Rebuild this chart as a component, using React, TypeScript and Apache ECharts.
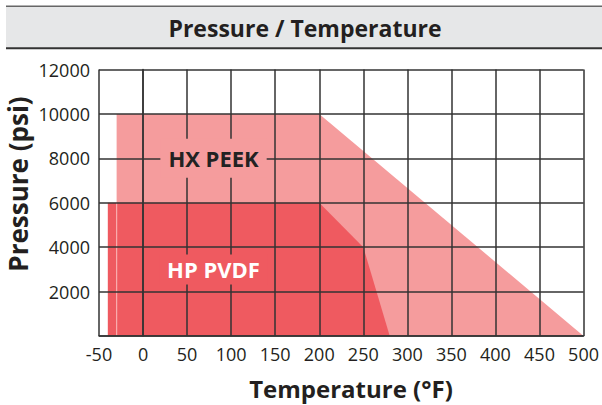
import React, { useEffect, useRef } from "react";
import * as echarts from "echarts";

// ---- data ----
const titleText = "Pressure / Temperature";
const xAxisTitle = "Temperature (°F)";
const yAxisTitle = "Pressure (psi)";

const xMin = -50;
const xMax = 500;
const xStep = 50;
const yMin = 0;
const yMax = 12000;
const yStep = 2000;

// HX PEEK envelope (temperature °F, pressure psi)
const peekTemp = [-30, -30, 200, 500];
const peekPsi = [0, 10000, 10000, 0];

// HP PVDF envelope
const pvdfTemp = [-40, -40, 200, 250, 280];
const pvdfPsi = [0, 6000, 6000, 4000, 0];

// region labels (anchor in data units)
const labelNames = ["HX PEEK", "HP PVDF"];
const labelTemp = [80, 80];
const labelPsi = [8000, 3000];

const PINK = "#F59C9D";
const RED = "#EF5A60";
const INK = "#231F20";
const GRID = "#333333";
const FONT = "'Open Sans', 'Noto Sans', sans-serif";

const zip = (a: number[], b: number[]) => a.map((v, i) => [v, b[i]]);

export default function App() {
  const ref = useRef<HTMLDivElement>(null);
  useEffect(() => {
    if (!ref.current) return;
    const chart = echarts.init(ref.current, null, { renderer: "svg" });
    chart.setOption({
      animation: false,
      backgroundColor: "#ffffff",
      grid: { left: 99, right: 16, top: 69.5, bottom: 69, containLabel: false },
      xAxis: {
        type: "value",
        min: xMin,
        max: xMax,
        interval: xStep,
        z: 5,
        axisLine: { show: true, onZero: false, lineStyle: { color: GRID, width: 1.5 } },
        axisTick: { show: false },
        splitLine: { show: true, lineStyle: { color: GRID, width: 1.5 } },
        axisLabel: { color: INK, fontSize: 18, fontFamily: FONT, margin: 9 },
      },
      yAxis: {
        type: "value",
        min: yMin,
        max: yMax,
        interval: yStep,
        z: 5,
        axisLine: { show: true, lineStyle: { color: GRID, width: 1.5 } },
        axisTick: { show: false },
        splitLine: { show: true, lineStyle: { color: GRID, width: 1.5 } },
        axisLabel: {
          color: INK,
          fontSize: 18,
          fontFamily: FONT,
          margin: 9,
          formatter: (v: number) => (v === 0 ? "" : String(v)),
        },
      },
      series: [
        {
          name: "HX PEEK",
          type: "line",
          z: 1,
          data: zip(peekTemp, peekPsi),
          showSymbol: false,
          symbol: "none",
          lineStyle: { width: 0 },
          areaStyle: { color: PINK, opacity: 1 },
          silent: true,
        },
        {
          name: "HP PVDF",
          type: "line",
          z: 2,
          data: zip(pvdfTemp, pvdfPsi),
          showSymbol: false,
          symbol: "none",
          lineStyle: { width: 0 },
          areaStyle: { color: RED, opacity: 1 },
          silent: true,
        },
        {
          name: "PEEK edge",
          type: "line",
          z: 3,
          data: [
            [peekTemp[0], 0],
            [peekTemp[1], pvdfPsi[1]],
          ],
          showSymbol: false,
          symbol: "none",
          lineStyle: { width: 1.2, color: "rgba(252,200,200,0.75)" },
          silent: true,
        },
        {
          name: "labels",
          type: "scatter",
          z: 10,
          symbolSize: 1,
          itemStyle: { color: "rgba(0,0,0,0)", opacity: 1 },
          silent: true,
          data: [
            {
              value: [labelTemp[0], labelPsi[0]],
              name: labelNames[0],
              label: {
                show: true,
                position: "inside",
                formatter: labelNames[0],
                color: "#222222",
                textBorderWidth: 0,
                fontSize: 22,
                fontWeight: "bold",
                fontFamily: FONT,
                lineHeight: 22,
                backgroundColor: PINK,
                padding: [9, 8, 8, 8],
              },
            },
            {
              value: [labelTemp[1], labelPsi[1]],
              name: labelNames[1],
              label: {
                show: true,
                position: "inside",
                formatter: labelNames[1],
                color: "#ffffff",
                textBorderWidth: 0,
                fontSize: 22,
                fontWeight: "bold",
                fontFamily: FONT,
                lineHeight: 22,
                backgroundColor: RED,
                padding: [4, 8, 4, 8],
              },
            },
          ],
        },
      ],
      graphic: [
        {
          type: "rect",
          shape: { x: 6, y: 6.5, width: 596, height: 41.5 },
          style: { fill: "#E6E7E8" },
          silent: true,
        },
        {
          type: "line",
          shape: { x1: 6, y1: 6.3, x2: 602, y2: 6.3 },
          style: { stroke: "#666666", lineWidth: 1.5 },
          silent: true,
        },
        {
          type: "line",
          shape: { x1: 6, y1: 48.3, x2: 602, y2: 48.3 },
          style: { stroke: "#333333", lineWidth: 2 },
          silent: true,
        },
        {
          type: "text",
          x: 305,
          y: 27.5,
          style: {
            text: titleText,
            fill: INK,
            font: `bold 23px ${FONT}`,
            textAlign: "center",
            textVerticalAlign: "middle",
          },
          silent: true,
        },
        {
          type: "text",
          x: 18,
          y: 184,
          rotation: Math.PI / 2,
          style: {
            text: yAxisTitle,
            fill: INK,
            font: `bold 26px ${FONT}`,
            textAlign: "center",
            textVerticalAlign: "middle",
          },
          silent: true,
        },
        {
          type: "text",
          x: 351,
          y: 388,
          style: {
            text: xAxisTitle,
            fill: INK,
            font: `bold 24px ${FONT}`,
            textAlign: "center",
            textVerticalAlign: "middle",
          },
          silent: true,
        },
      ],
    });
    return () => chart.dispose();
  }, []);
  return (
    <div
      ref={ref}
      style={{ position: "fixed", left: 0, top: 0, width: 602, height: 405 }}
    />
  );
}
